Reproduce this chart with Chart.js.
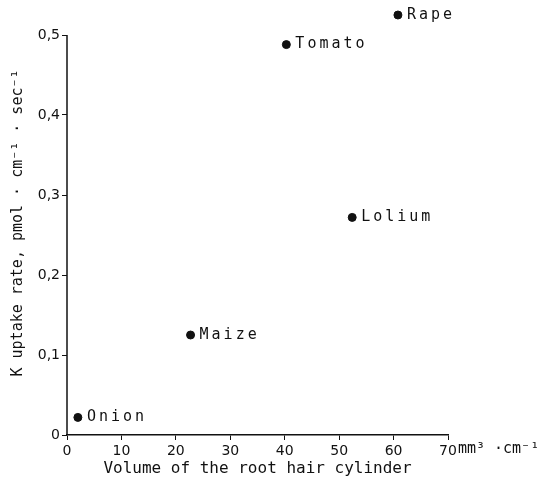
<!DOCTYPE html>
<html>
<head>
<meta charset="utf-8">
<script src="https://cdn.jsdelivr.net/npm/chart.js@4/dist/chart.umd.min.js"></script>
<style>
  html, body { margin: 0; padding: 0; background: #fff; }
  #wrap { width: 554px; height: 483px; }
</style>
</head>
<body>
<div id="wrap"><canvas id="grafico"></canvas></div>
<script>
// data
const plantas = ['Onion', 'Maize', 'Tomato', 'Lolium', 'Rape'];
const volume = [2, 22.7, 40.3, 52.4, 60.8];        // mm3 per cm
const uptake = [0.022, 0.125, 0.488, 0.272, 0.525]; // pmol per cm per sec
const xTicks = [0, 10, 20, 30, 40, 50, 60, 70];
const yTicks = [0, 0.1, 0.2, 0.3, 0.4, 0.5];

const fonte = 'DejaVu Sans Mono';
const fonteNum = 'DejaVu Sans';

const pontos = plantas.map((p, i) => ({ x: volume[i], y: uptake[i] }));

// names next to each dot
const rotulos = {
  id: 'rotulos',
  afterDatasetsDraw(chart) {
    const ctx = chart.ctx;
    const meta = chart.getDatasetMeta(0);
    ctx.save();
    ctx.font = '15px "' + fonte + '"';
    ctx.letterSpacing = '3px';
    ctx.fillStyle = '#111';
    ctx.textAlign = 'left';
    ctx.textBaseline = 'middle';
    meta.data.forEach((pt, i) => {
      ctx.fillText(plantas[i], pt.x + 9, pt.y);
    });
    ctx.restore();
  }
};

// y axis line stops at the last tick (0,5), the plot goes a bit higher for Rape
// plus the unit written after the last x tick
const eixos = {
  id: 'eixos',
  afterDraw(chart) {
    const ctx = chart.ctx;
    const x = chart.scales.x;
    const y = chart.scales.y;
    ctx.save();
    ctx.strokeStyle = '#111';
    ctx.lineWidth = 1.5;
    ctx.beginPath();
    ctx.moveTo(y.right, y.getPixelForValue(yTicks[0]));
    ctx.lineTo(y.right, y.getPixelForValue(yTicks[yTicks.length - 1]));
    ctx.stroke();

    const px = x.getPixelForValue(xTicks[xTicks.length - 1]);
    ctx.font = '14px "' + fonteNum + '"';
    const w = ctx.measureText('70').width;
    ctx.font = '15px "' + fonte + '"';
    ctx.fillStyle = '#111';
    ctx.textAlign = 'left';
    ctx.textBaseline = 'middle';
    ctx.fillText('mm³ ·cm⁻¹', px + w / 2 + 1, x.top + 14);
    ctx.restore();
  }
};

new Chart(document.getElementById('grafico').getContext('2d'), {
  type: 'scatter',
  data: {
    datasets: [{
      label: 'K uptake',
      data: pontos,
      backgroundColor: '#111',
      borderColor: '#111',
      pointRadius: 4,
      clip: false
    }]
  },
  options: {
    responsive: true,
    maintainAspectRatio: false,
    animation: false,
    layout: { padding: { top: 11, right: 106, left: 0, bottom: 0 } },
    plugins: {
      legend: { display: false },
      tooltip: { enabled: false }
    },
    scales: {
      x: {
        type: 'linear',
        min: 0,
        max: 70,
        afterBuildTicks(scale) { scale.ticks = xTicks.map(v => ({ value: v })); },
        afterFit(scale) { scale.height = 48; },
        border: { color: '#111', width: 1.5 },
        grid: { drawOnChartArea: false, color: '#111', tickLength: 5 },
        ticks: {
          color: '#111',
          padding: 3,
          maxRotation: 0,
          font: { family: fonteNum, size: 14 }
        },
        title: {
          display: true,
          text: 'Volume of the root hair cylinder',
          color: '#111',
          font: { family: fonte, size: 16 },
          padding: { top: 0, bottom: 5 }
        }
      },
      y: {
        type: 'linear',
        min: 0,
        max: 0.53,
        afterBuildTicks(scale) { scale.ticks = yTicks.map(v => ({ value: v })); },
        afterFit(scale) { scale.width = 67; },
        border: { display: false },
        grid: { drawOnChartArea: false, color: '#111', tickLength: 5 },
        ticks: {
          color: '#111',
          padding: 2,
          font: { family: fonteNum, size: 14 },
          callback: v => v === 0 ? '0' : v.toFixed(1).replace('.', ',')
        },
        title: {
          display: true,
          text: 'K uptake rate, pmol · cm⁻¹ · sec⁻¹',
          color: '#111',
          font: { family: fonte, size: 15 },
          padding: { top: 9, bottom: 0 }
        }
      }
    }
  },
  plugins: [rotulos, eixos]
});
</script>
</body>
</html>
